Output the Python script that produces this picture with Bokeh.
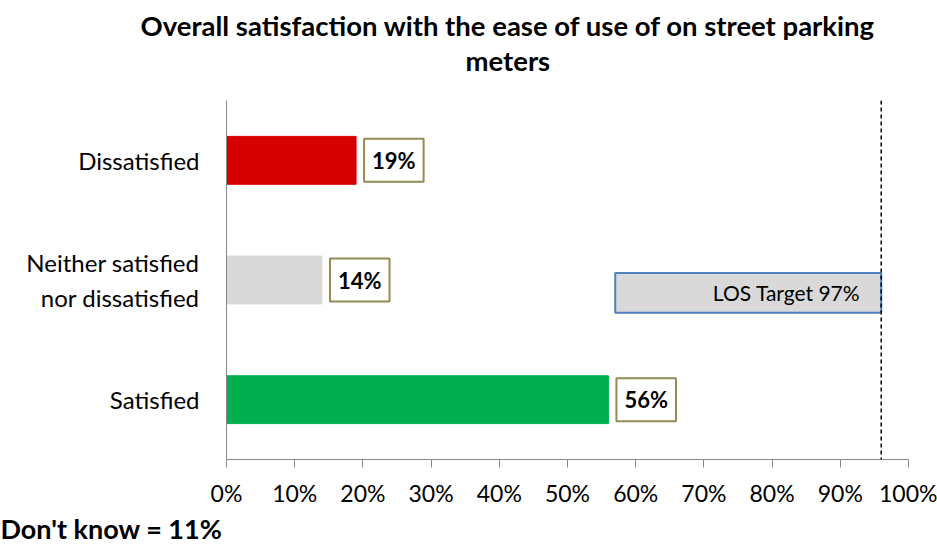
from bokeh.plotting import figure
from bokeh.models import FactorRange, Span, ColumnDataSource, FixedTicker, Title
from bokeh.embed import file_html
from bokeh.resources import INLINE
from bokeh.core.properties import value

categories = ["Satisfied", "Neither satisfied\nnor dissatisfied", "Dissatisfied"]
percents = [56, 14, 19]
bar_colors = ["#00B050", "#D9D9D9", "#D70000"]
target_position = 96
target_box_left = 57
target_label = "LOS Target 97%"
title_lines = ["Overall satisfaction with the ease of use of on street parking", "meters"]
footnote = "Don't know = 11%"
x_ticks = [0, 10, 20, 30, 40, 50, 60, 70, 80, 90, 100]

FONT = "Lato"

p = figure(width=937, height=544, output_backend="svg", toolbar_location=None,
           y_range=FactorRange(factors=categories, range_padding=0),
           x_range=(0, 100),
           min_border_left=226, min_border_right=29, min_border_top=100, min_border_bottom=84)
p.outline_line_color = None
p.xgrid.visible = False
p.ygrid.visible = False

src = ColumnDataSource(dict(cat=categories, val=percents, color=bar_colors,
                            lbl=[f"{v}%" for v in percents]))
p.hbar(y="cat", right="val", left=0, height=0.4, color="color", source=src)

# value labels in boxes
p.text(x="val", y="cat", text="lbl", source=src, x_offset=8, text_align="left", text_baseline="middle",
       text_font=value(FONT), text_font_size="22px", text_font_style="bold", text_color="black",
       background_fill_color="white", border_line_color="#948A54", border_line_width=2, padding=8)

# target box
tsrc = ColumnDataSource(dict(y=[(categories[1], -0.108)], left=[target_box_left], right=[target_position]))
p.hbar(y="y", left="left", right="right", height=0.333, source=tsrc,
       fill_color="#D9D9D9", line_color="#4F81BD", line_width=2)
p.text(x=[target_position], y=[(categories[1], -0.108)], text=[target_label], x_offset=-21,
       text_align="right", text_baseline="middle", text_font=value(FONT), text_font_size="21px",
       text_color="black")

p.add_layout(Span(location=target_position, dimension="height", line_color="black",
                  line_dash="4 3", line_width=1.5))

p.xaxis.ticker = FixedTicker(ticks=x_ticks)
p.xaxis.major_label_overrides = {t: f"{t}%" for t in x_ticks}
p.xaxis.axis_line_color = "#888888"
p.xaxis.major_tick_line_color = "#888888"
p.xaxis.major_tick_out = 8
p.xaxis.major_tick_in = 0
p.xaxis.minor_tick_line_color = None
p.xaxis.major_label_standoff = 11
p.xaxis.major_label_text_font = FONT
p.xaxis.major_label_text_font_size = "23px"
p.xaxis.major_label_text_color = "black"

p.yaxis.axis_line_color = "#888888"
p.yaxis.major_tick_line_color = None
p.yaxis.minor_tick_line_color = None
p.yaxis.major_label_standoff = 21
p.yaxis.major_label_text_font = FONT
p.yaxis.major_label_text_font_size = "24px"
p.yaxis.major_label_text_color = "black"

# spacer between title and plot frame (innermost "above" panel)
p.add_layout(Title(text=" ", text_font=FONT, text_font_size="18px", standoff=0), "above")
# title: lines added innermost first
title_offsets = [-86, 239]
for t, off in reversed(list(zip(title_lines, title_offsets))):
    p.add_layout(Title(text=t, align="left", offset=off, text_font=FONT, text_font_size="27.5px",
                       text_font_style="bold", text_color="black", standoff=0), "above")

p.add_layout(Title(text=footnote, align="left", offset=-226, text_font=FONT, text_font_size="27px",
                   text_font_style="bold", text_color="black", standoff=0), "below")

open("out.html", "w").write(file_html(p, INLINE))
